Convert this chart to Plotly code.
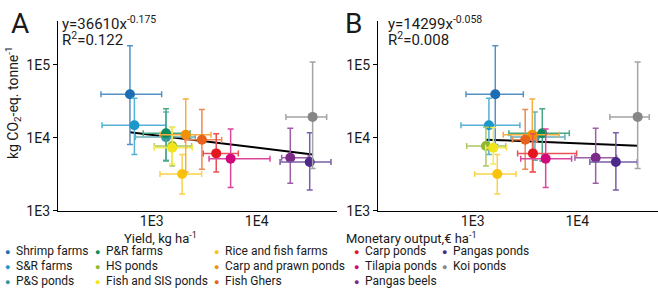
import plotly.graph_objects as go
import numpy as np

W, H = 658, 293

# ---------------- data ----------------
systems = ["Shrimp farms", "S&R farms", "P&S ponds", "P&R farms", "HS ponds",
           "Fish and SIS ponds", "Rice and fish farms", "Carp and prawn ponds",
           "Fish Ghers", "Carp ponds", "Tilapia ponds", "Pangas beels",
           "Pangas ponds", "Koi ponds"]
colors = ["#1d6db5", "#1c97c9", "#3496a3", "#0a8c5c", "#8fb830",
          "#f2e41a", "#f9c30c", "#f29200", "#e8621c", "#e2171f",
          "#d1087c", "#7b2a89", "#4c2a8b", "#868686"]

# emissions, kg CO2-eq per tonne (centre, low, high)
emis = [39400, 14800, 10200, 11500, 7700, 7300, 3190, 11000, 9400, 6100, 5170, 5300, 4640, 19300]
emis_lo = [8100, 5900, 4900, 4800, 4100, 4350, 1690, 3400, 3700, 3400, 2080, 2380, 1920, 3780]
emis_hi = [183000, 34700, 22500, 25000, 13900, 13800, 5900, 34000, 24300, 11300, 13200, 13500, 11700, 109000]

# yield, kg/ha (centre, low, high)
yld = [621, 685, 1370, 1370, 1570, 1570, 1950, 2110, 3010, 4120, 5650, 20900, 32000, 34100]
yld_lo = [329, 337, 700, 830, 1060, 1060, 1200, 1200, 2080, 3100, 3520, 17300, 16700, 19000]
yld_hi = [1245, 1360, 2600, 2320, 2400, 2440, 2990, 3670, 4640, 6690, 13400, 31000, 51000, 46400]

# monetary output, EUR/ha (centre, low, high)
mon = [1645, 1430, 3940, 4630, 1340, 1575, 1720, 3720, 3180, 3770, 4990, 15000, 23400, 37800]
mon_lo = [863, 773, 2320, 2220, 877, 1330, 1045, 1960, 2400, 2690, 2880, 9500, 13200, 20500]
mon_hi = [3050, 2830, 7620, 8400, 2070, 2120, 2600, 6730, 4100, 9860, 8830, 23800, 37500, 48800]

# power-law fits
fitA = {"a": 36610, "b": -0.175, "r2": "0.122"}
fitB = {"a": 14299, "b": -0.058, "r2": "0.008"}

tick_vals_y = [1e3, 1e4, 1e5]
tick_text_y = ["1E3", "1E4", "1E5"]
tick_vals_x = [1e3, 1e4]
tick_text_x = ["1E3", "1E4"]

# ---------------- helpers ----------------
def lighten(hexc, f=0.25):
    r, g, b = int(hexc[1:3], 16), int(hexc[3:5], 16), int(hexc[5:7], 16)
    r = int(r + (255 - r) * f); g = int(g + (255 - g) * f); b = int(b + (255 - b) * f)
    return f"rgb({r},{g},{b})"

def px(x):
    return x / W

def py(y):
    return 1 - y / H

FONT = "Roboto"
TXT = "#1a1a1a"

fig = go.Figure()

def add_panel(xv, xlo, xhi, fit, xa, ya):
    xs = np.array([min(xv), max(xv)], dtype=float)
    fig.add_trace(go.Scatter(x=xs, y=fit["a"] * xs ** fit["b"], mode="lines",
                             line=dict(color="black", width=2),
                             xaxis=xa, yaxis=ya, showlegend=False, hoverinfo="skip"))
    for i, name in enumerate(systems):
        fig.add_trace(go.Scatter(
            x=[xv[i]], y=[emis[i]], mode="markers", name=name,
            marker=dict(color=colors[i], size=10),
            error_x=dict(type="data", symmetric=False,
                         array=[xhi[i] - xv[i]], arrayminus=[xv[i] - xlo[i]],
                         color=lighten(colors[i]), thickness=1.5, width=3),
            error_y=dict(type="data", symmetric=False,
                         array=[emis_hi[i] - emis[i]], arrayminus=[emis[i] - emis_lo[i]],
                         color=lighten(colors[i]), thickness=1.5, width=3),
            xaxis=xa, yaxis=ya, showlegend=False))

add_panel(yld, yld_lo, yld_hi, fitA, "x", "y")
add_panel(mon, mon_lo, mon_hi, fitB, "x2", "y2")

ydom = [py(210.7), py(21)]
axis_common = dict(type="log", showgrid=False, zeroline=False, showline=True, automargin=False,
                   linecolor="black", linewidth=1.3,
                   tickfont=dict(family=FONT, size=14, color=TXT))
yaxis_extra = dict(ticks="outside", ticklen=4, tickcolor="black")
xaxis_extra = dict(ticks="", ticklabelstandoff=-3)

fig.update_layout(
    width=W, height=H, margin=dict(l=0, r=0, t=0, b=0, pad=0, autoexpand=False),
    plot_bgcolor="white", paper_bgcolor="white", showlegend=False,
    font=dict(family=FONT, color=TXT),
    xaxis=dict(domain=[px(58), px(337)], range=[2.108, 4.765],
               tickvals=tick_vals_x, ticktext=tick_text_x, anchor="y",
               **axis_common, **xaxis_extra),
    yaxis=dict(domain=ydom, range=[3, 5.6], tickvals=tick_vals_y, ticktext=tick_text_y,
               anchor="x", **axis_common, **yaxis_extra),
    xaxis2=dict(domain=[px(378), 1.0], range=[2.095, 4.772],
                tickvals=tick_vals_x, ticktext=tick_text_x, anchor="y2",
                **axis_common, **xaxis_extra),
    yaxis2=dict(domain=ydom, range=[3, 5.6], tickvals=tick_vals_y, ticktext=tick_text_y,
                anchor="x2", **axis_common, **yaxis_extra),
)

ann = []
def text(x, y, t, size, xanchor="left", yanchor="middle", angle=0, color=TXT):
    ann.append(dict(x=px(x), y=py(y), xref="paper", yref="paper", text=t,
                    showarrow=False, xanchor=xanchor, yanchor=yanchor, textangle=angle,
                    font=dict(family=FONT, size=size, color=color)))

# panel letters and fit equations
text(20, 23, "A", 28, xanchor="center")
text(353, 23, "B", 28, xanchor="center")
for x0, fit in [(60, fitA), (386, fitB)]:
    text(x0, 23, f"y={fit['a']}x<sup>{fit['b']}</sup>", 15)
    text(x0, 39, f"R<sup>2</sup>={fit['r2']}", 15)

# axis titles
text(13, 103, "kg CO<sub>2</sub>-eq. tonne<sup>-1</sup>", 14, xanchor="center", angle=-90)
text(160, 238, "Yield, kg ha<sup>-1</sup>", 13, xanchor="center")
text(411, 238, "Monetary output,€ ha<sup>-1</sup>", 13, xanchor="center")

# custom legend (column-wise)
col_x = [7, 97, 216, 356, 444]
row_y = [251, 266, 281]
for i, name in enumerate(systems):
    c, r = divmod(i, 3)
    if 9 <= i <= 11:
        c, r = 3, i - 9
    if i >= 12:
        c, r = 4, i - 12
    text(col_x[c], row_y[r] + 1, "●", 9, xanchor="center", color=colors[i])
    text(col_x[c] + 7, row_y[r], name, 12)

fig.update_layout(annotations=ann)
fig.write_html("out.html", config={"displayModeBar": False},
               post_script="document.body.style.margin='0px';")
